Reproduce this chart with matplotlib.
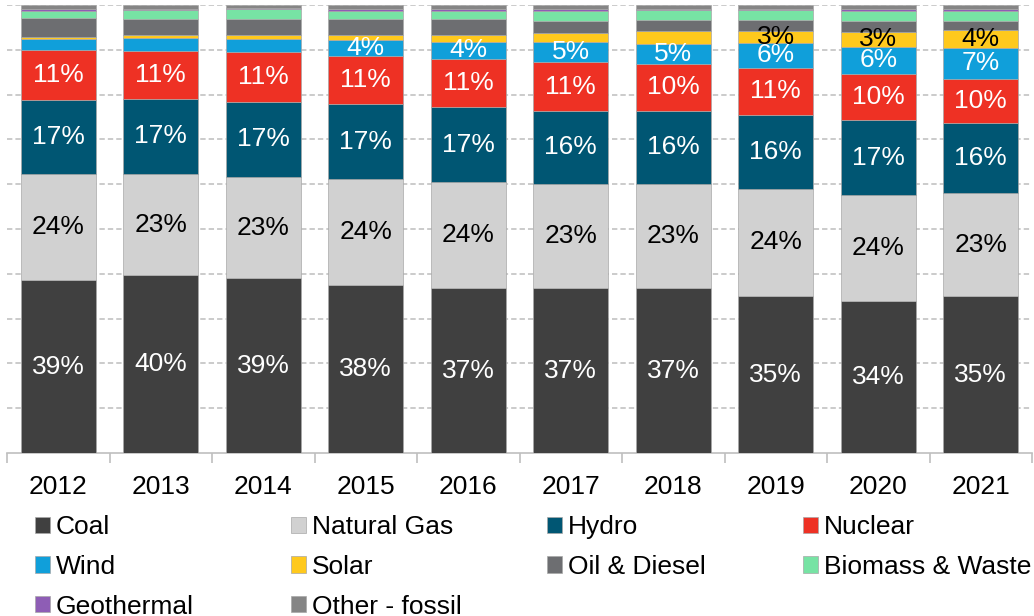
import matplotlib.pyplot as plt
import numpy as np

plt.rcParams['font.family'] = ['Liberation Sans', 'DejaVu Sans']

years = ['2012', '2013', '2014', '2015', '2016', '2017', '2018', '2019', '2020', '2021']

# share of generation, %
coal = [38.6, 39.7, 39.0, 37.5, 36.8, 36.8, 36.8, 35.0, 34.0, 35.0]
natural_gas = [23.6, 22.6, 22.6, 23.6, 23.6, 23.2, 23.2, 24.0, 23.6, 23.0]
hydro = [16.7, 16.7, 16.8, 16.8, 16.8, 16.4, 16.4, 16.4, 16.7, 15.6]
nuclear = [11.1, 10.8, 11.1, 10.8, 10.7, 10.8, 10.4, 10.6, 10.4, 9.9]
wind = [2.4, 2.8, 2.8, 3.5, 3.9, 4.6, 4.6, 5.6, 6.0, 7.0]
solar = [0.5, 0.8, 1.1, 1.1, 1.5, 1.9, 2.7, 2.6, 3.3, 3.9]
oil_diesel = [4.2, 3.5, 3.5, 3.5, 3.5, 2.8, 2.5, 2.5, 2.5, 2.1]
biomass = [1.5, 1.9, 2.1, 1.9, 1.9, 2.2, 2.2, 2.2, 2.2, 2.2]
geothermal = [0.4, 0.4, 0.3, 0.4, 0.4, 0.4, 0.3, 0.3, 0.3, 0.3]
other_fossil = [1.0, 0.7, 0.8, 0.9, 0.9, 0.9, 0.9, 0.8, 1.0, 1.0]

series = [
    ('Coal', coal, '#404040', 'white'),
    ('Natural Gas', natural_gas, '#D1D1D1', 'black'),
    ('Hydro', hydro, '#005673', 'white'),
    ('Nuclear', nuclear, '#EE3124', 'white'),
    ('Wind', wind, '#109FDA', 'white'),
    ('Solar', solar, '#FFC91D', 'black'),
    ('Oil & Diesel', oil_diesel, '#6D6E71', 'white'),
    ('Biomass & Waste', biomass, '#77E3A4', 'black'),
    ('Geothermal', geothermal, '#8E5DB5', 'white'),
    ('Other - fossil', other_fossil, '#858585', 'white'),
]

# which series get a % label, and from which year on
label_from = {'Coal': 2012, 'Natural Gas': 2012, 'Hydro': 2012,
              'Nuclear': 2012, 'Wind': 2015, 'Solar': 2019}

fig = plt.figure(figsize=(10.34, 6.16), dpi=100)
ax = fig.add_axes([7 / 1034, 1 - 453 / 616, 1025 / 1034, 448 / 616])

x = np.arange(len(years))
bottom = np.zeros(len(years))
handles = {}
for name, vals, color, tcolor in series:
    vals = np.array(vals)
    bars = ax.bar(x, vals, 0.73, bottom=bottom, color=color,
                  edgecolor='#A8A8A8', linewidth=0.5, label=name, zorder=3)
    handles[name] = bars
    if name in label_from:
        for i, v in enumerate(vals):
            if int(years[i]) >= label_from[name]:
                ax.text(x[i], bottom[i] + v / 2, '%d%%' % int(v + 0.5),
                        ha='center', va='center', fontsize=19,
                        color=tcolor, zorder=4)
    bottom += vals

ax.set_xlim(-0.5, len(years) - 0.5)
ax.set_ylim(0, 100)
ax.set_yticks(np.arange(10, 101, 10))
ax.yaxis.grid(True, color='#BDBDBD', linestyle=(0, (3.5, 2)), linewidth=1.1, zorder=0)
ax.tick_params(axis='y', left=False, labelleft=False)

ax.set_xticks(x)
ax.set_xticklabels(years, fontsize=19)
ax.set_xticks(np.arange(-0.5, len(years)), minor=True)
ax.tick_params(axis='x', which='major', length=0, pad=16)
ax.tick_params(axis='x', which='minor', length=7, color='#BFBFBF', width=1.2)

for side in ['top', 'right', 'left']:
    ax.spines[side].set_visible(False)
ax.spines['bottom'].set_color('#BFBFBF')
ax.spines['bottom'].set_linewidth(1.2)

# legend laid out as four columns, row-wise order
columns = [['Coal', 'Wind', 'Geothermal'],
           ['Natural Gas', 'Solar', 'Other - fossil'],
           ['Hydro', 'Oil & Diesel'],
           ['Nuclear', 'Biomass & Waste']]
col_x = [35, 291, 547, 803]
for cx, names in zip(col_x, columns):
    fig.legend([handles[n] for n in names], names, loc='upper left',
               bbox_to_anchor=(cx / 1034, 1 - 515 / 616), frameon=False,
               fontsize=19, handlelength=0.57, handleheight=0.57,
               handletextpad=0.22, labelspacing=0.6, borderpad=0,
               borderaxespad=0)

fig.savefig('out.png', dpi=100)
